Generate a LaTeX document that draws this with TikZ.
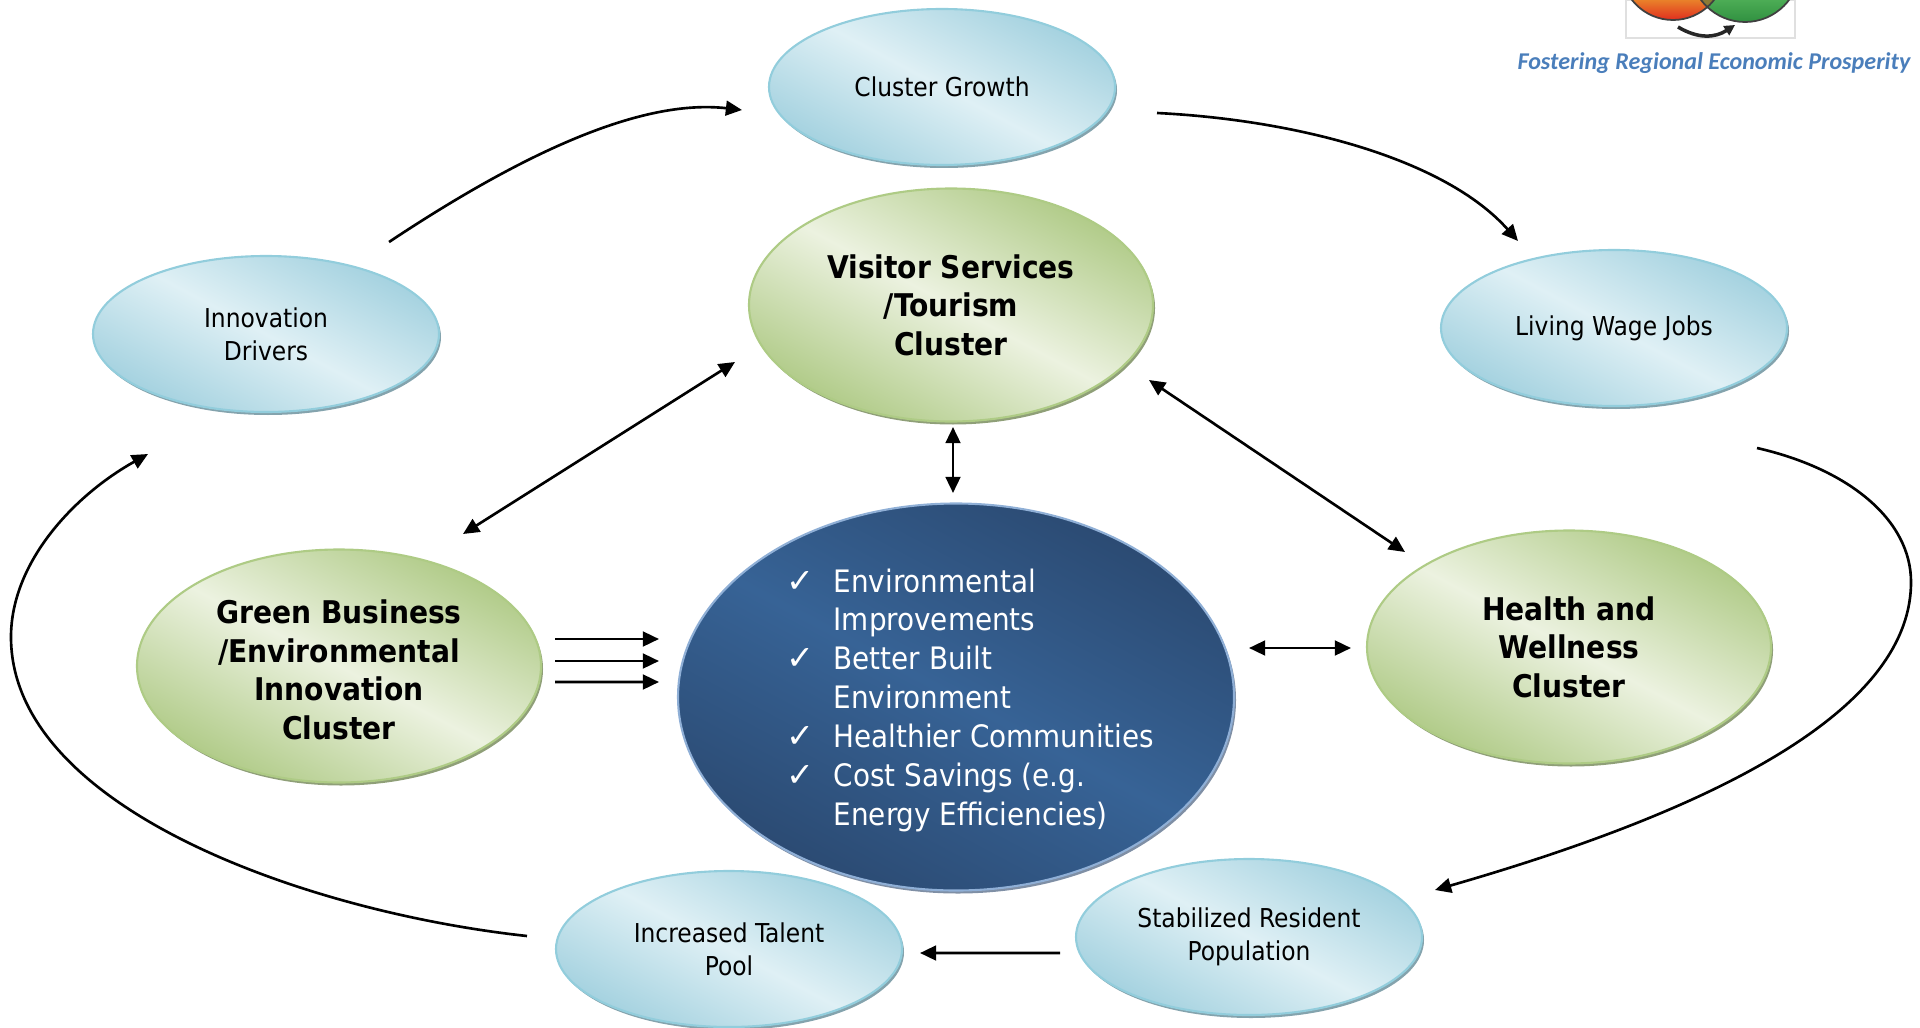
\documentclass[tikz,border=0pt]{standalone}
\usepackage{fontspec}
\setmainfont{DejaVu Sans Condensed}
\newfontfamily\checkfont{DejaVu Sans}
\newfontfamily\tagfont{Carlito}
\usepackage{tikz}
\usetikzlibrary{shapes.geometric,shadows,arrows.meta}
\definecolor{tealedge}{HTML}{92CDDC}
\definecolor{tealdark}{HTML}{A3D1DF}
\definecolor{teallight}{HTML}{DFF0F5}
\definecolor{tealshadow}{HTML}{84A3AD}
\definecolor{leafedge}{HTML}{AECB85}
\definecolor{leafdark}{HTML}{AFCA86}
\definecolor{leaflight}{HTML}{ECF2E0}
\definecolor{leafshadow}{HTML}{8F9F78}
\definecolor{navyedge}{HTML}{8FAFD6}
\definecolor{navydark}{HTML}{2B4A72}
\definecolor{navylight}{HTML}{376396}
\definecolor{navyshadow}{HTML}{7F8FA5}
\definecolor{tagblue}{HTML}{4A7EBB}
\definecolor{logored}{HTML}{E02A1E}
\definecolor{logoorange}{HTML}{E9802A}
\definecolor{logogreen}{HTML}{4CAC55}
\definecolor{logogreendark}{HTML}{2F8F3F}
\definecolor{logoolive}{HTML}{8B7A35}
\newcommand{\chk}{\leavevmode\llap{{\checkfont\fontsize{9.5}{11}\selectfont ✓}\hspace{5.5pt}}}
\tikzstyle{every picture}+=[>={Triangle[length=4.6pt,width=4.2pt]}]
\tikzstyle{bubble} = [ellipse,draw,line width=0.6pt,inner sep=0pt,outer sep=0pt,align=center]
\tikzstyle{outcome} = [bubble,minimum width=3.46cm,minimum height=1.56cm,draw=tealedge,
  top color=tealdark,bottom color=tealdark,middle color=teallight,shading angle=-28,
  drop shadow={shadow xshift=0.02cm,shadow yshift=-0.03cm,fill=tealshadow,opacity=1},
  font=\fontsize{7.4}{9.4}\selectfont]
\tikzstyle{cluster} = [bubble,minimum width=4.04cm,minimum height=2.33cm,draw=leafedge,
  top color=leafdark,bottom color=leafdark,middle color=leaflight,shading angle=-28,
  drop shadow={shadow xshift=0.02cm,shadow yshift=-0.03cm,fill=leafshadow,opacity=1},
  font=\fontsize{8.9}{11}\selectfont\bfseries]
\tikzstyle{flow} = [->,line width=0.75pt]
\tikzstyle{link} = [<->,line width=0.75pt]
\begin{document}
\begin{tikzpicture}
\useasboundingbox (0,0) rectangle (19.2,-10.28);

% logo
\fill[white,draw=black!12] (16.26,0) rectangle (17.95,-0.38);
\begin{scope}
\clip (16.26,0) rectangle (17.95,-0.38);
\begin{scope}
\clip (16.73,0.32) circle (0.52);
\shade[top color=logoorange,bottom color=logored] (16,0) rectangle (18,-0.21);
\end{scope}
\begin{scope}
\clip (17.45,0.33) circle (0.55);
\shade[top color=logogreen,bottom color=logogreendark] (16,0) rectangle (18,-0.23);
\end{scope}
\begin{scope}
\clip (16.73,0.32) circle (0.52);
\fill[logoolive] (17.45,0.33) circle (0.55);
\end{scope}
\draw[line width=0.5pt,black!75] (16.73,0.32) circle (0.52);
\draw[line width=0.5pt,black!75] (17.45,0.33) circle (0.55);
\end{scope}
\draw[-{Triangle[length=3pt,width=3pt]},line width=1pt,black!85] (16.78,-0.27) .. controls (16.98,-0.39) and (17.15,-0.38) .. (17.35,-0.25);
\node[anchor=east,inner sep=0pt,text=tagblue,font=\tagfont\fontsize{6.85}{8}\selectfont\bfseries\itshape] (tagline) at (19.11,-0.63) {Fostering Regional Economic Prosperity};

% outer ring
\node[outcome] (clustergrowth) at (9.42,-0.87) {Cluster Growth};
\node[outcome] (innovation) at (2.66,-3.34) {Innovation\\Drivers};
\node[outcome] (livingwage) at (16.14,-3.28) {Living Wage Jobs};
\node[outcome] (talent) at (7.29,-9.49) {Increased Talent\\Pool};
\node[outcome] (resident) at (12.49,-9.37) {Stabilized Resident\\Population};

% clusters
\node[cluster] (visitor) at (9.51,-3.05) {Visitor Services\\/Tourism\\Cluster};
\node[cluster] (greenbiz) at (3.39,-6.66) {\rule{0pt}{1em}Green Business\\/Environmental\\Innovation\\Cluster};
\node[cluster] (health) at (15.69,-6.47) {Health and\\Wellness\\Cluster};

% centre
\node[bubble,minimum width=5.56cm,minimum height=3.87cm,draw=navyedge,
  top color=navydark,bottom color=navydark,middle color=navylight,shading angle=-28,
  drop shadow={shadow xshift=0.02cm,shadow yshift=-0.03cm,fill=navyshadow,opacity=1}] (central) at (9.56,-6.97) {};
\node[anchor=west,align=left,inner sep=0pt,text=white,font=\fontsize{8.8}{11.05}\selectfont] (benefits) at (8.33,-7)
  {\chk Environmental\\Improvements\\\chk Better Built\\Environment\\\chk Healthier Communities\\\chk Cost Savings (e.g.\\Energy Efficiencies)};

% cycle
\draw[flow] ([xshift=1.23cm,yshift=0.92cm]innovation.center) .. controls (5.14,-1.59) and (6.37,-0.98) .. ([xshift=-2cm,yshift=-0.23cm]clustergrowth.center);
\draw[flow] ([xshift=2.15cm,yshift=-0.26cm]clustergrowth.center) .. controls (12.98,-1.2) and (14.45,-1.59) .. ([xshift=-0.96cm,yshift=0.87cm]livingwage.center);
\draw[flow] ([xshift=1.43cm,yshift=-1.2cm]livingwage.center) .. controls (18.49,-4.69) and (19.11,-5.2) .. (19.11,-5.82) .. controls (19.11,-7.22) and (16.78,-8.2) .. ([xshift=1.86cm,yshift=0.47cm]resident.center);
\draw[flow] ([xshift=-1.89cm,yshift=-0.16cm]resident.center) -- ([xshift=1.91cm,yshift=-0.04cm]talent.center);
\draw[flow] ([xshift=-2.02cm,yshift=0.13cm]talent.center) .. controls (3.06,-9.12) and (0.11,-8.08) .. (0.11,-6.37) .. controls (0.11,-5.63) and (0.73,-4.96) .. ([xshift=-1.18cm,yshift=-1.2cm]innovation.center);

% links
\draw[link] ([xshift=1.24cm,yshift=1.32cm]greenbiz.center) -- ([xshift=-2.16cm,yshift=-0.57cm]visitor.center);
\draw[link] ([xshift=0.02cm,yshift=-1.22cm]visitor.center) -- ([xshift=-0.03cm,yshift=2.04cm]central.center);
\draw[link] ([xshift=1.98cm,yshift=-0.75cm]visitor.center) -- ([xshift=-1.64cm,yshift=0.95cm]health.center);
\draw[link] ([xshift=2.93cm,yshift=0.49cm]central.center) -- ([xshift=-2.18cm,yshift=-0.01cm]health.center);
\draw[flow] ([xshift=2.16cm,yshift=0.27cm]greenbiz.center) -- ([xshift=-2.97cm,yshift=0.58cm]central.center);
\draw[flow] ([xshift=2.16cm,yshift=0.05cm]greenbiz.center) -- ([xshift=-2.97cm,yshift=0.36cm]central.center);
\draw[flow] ([xshift=2.16cm,yshift=-0.16cm]greenbiz.center) -- ([xshift=-2.97cm,yshift=0.15cm]central.center);
\end{tikzpicture}
\end{document}
